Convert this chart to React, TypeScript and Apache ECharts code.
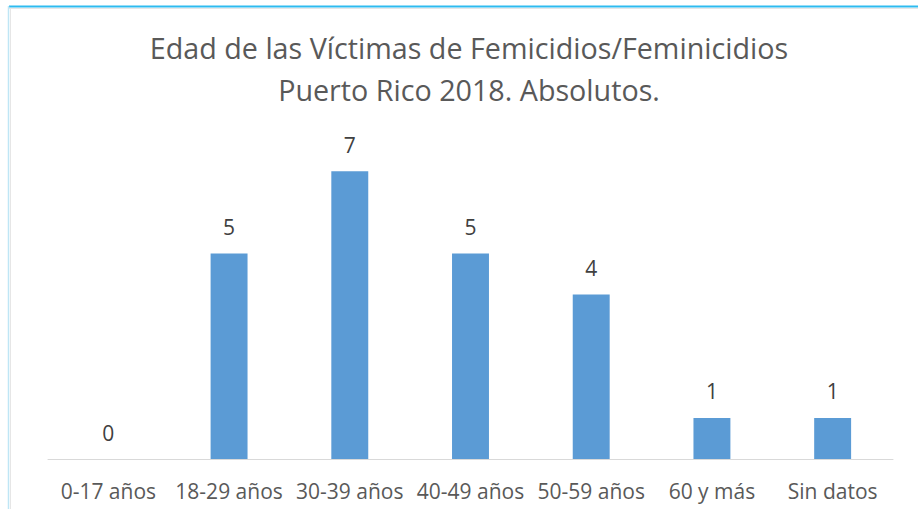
import React, { useEffect, useRef } from "react";
import * as echarts from "echarts";

const categories = ["0-17 años", "18-29 años", "30-39 años", "40-49 años", "50-59 años", "60 y más", "Sin datos"];
const values = [0, 5, 7, 5, 4, 1, 1];
const titleLines = ["Edad de las Víctimas de Femicidios/Feminicidios", "Puerto Rico 2018. Absolutos."];

export default function App() {
  const ref = useRef<HTMLDivElement>(null);
  useEffect(() => {
    const chart = echarts.init(ref.current!, null, { renderer: "svg" });
    chart.setOption({
      animation: false,
      backgroundColor: "#ffffff",
      title: {
        text: titleLines.join("\n"),
        left: 464,
        top: 21,
        textAlign: "center",
        textStyle: {
          fontFamily: "Open Sans",
          fontSize: 28.7,
          fontWeight: "normal",
          color: "#595959",
          lineHeight: 42,
        },
      },
      graphic: [
        { type: "line", shape: { x1: 9, y1: 6.5, x2: 918, y2: 6.5 }, style: { stroke: "#2EBBF0", lineWidth: 2 } },
        { type: "line", shape: { x1: 9, y1: 8.5, x2: 918, y2: 8.5 }, style: { stroke: "#E6E6E6", lineWidth: 1 } },
        { type: "line", shape: { x1: 8.5, y1: 6, x2: 8.5, y2: 509 }, style: { stroke: "#BFE6F5", lineWidth: 1.5 } },
        { type: "line", shape: { x1: 10.5, y1: 9, x2: 10.5, y2: 509 }, style: { stroke: "#E6E6E6", lineWidth: 1 } },
      ],
      grid: { left: 48, right: 25, top: 130, bottom: 50 },
      xAxis: {
        type: "category",
        data: categories,
        axisLine: { lineStyle: { color: "#D9D9D9", width: 1 } },
        axisTick: { show: false },
        axisLabel: {
          color: "#595959",
          fontFamily: "Open Sans",
          fontSize: 21,
          margin: 21,
          interval: 0,
        },
      },
      yAxis: {
        type: "value",
        min: 0,
        max: 8,
        show: false,
        splitLine: { show: false },
      },
      series: [
        {
          type: "bar",
          data: values,
          barWidth: "30.6%",
          itemStyle: { color: "#5B9BD5" },
          label: {
            show: true,
            position: "top",
            distance: 16,
            color: "#404040",
            fontFamily: "Open Sans",
            fontSize: 21,
          },
        },
      ],
    });
    return () => chart.dispose();
  }, []);
  return <div ref={ref} style={{ position: "fixed", left: 0, top: 0, width: 918, height: 509 }} />;
}
